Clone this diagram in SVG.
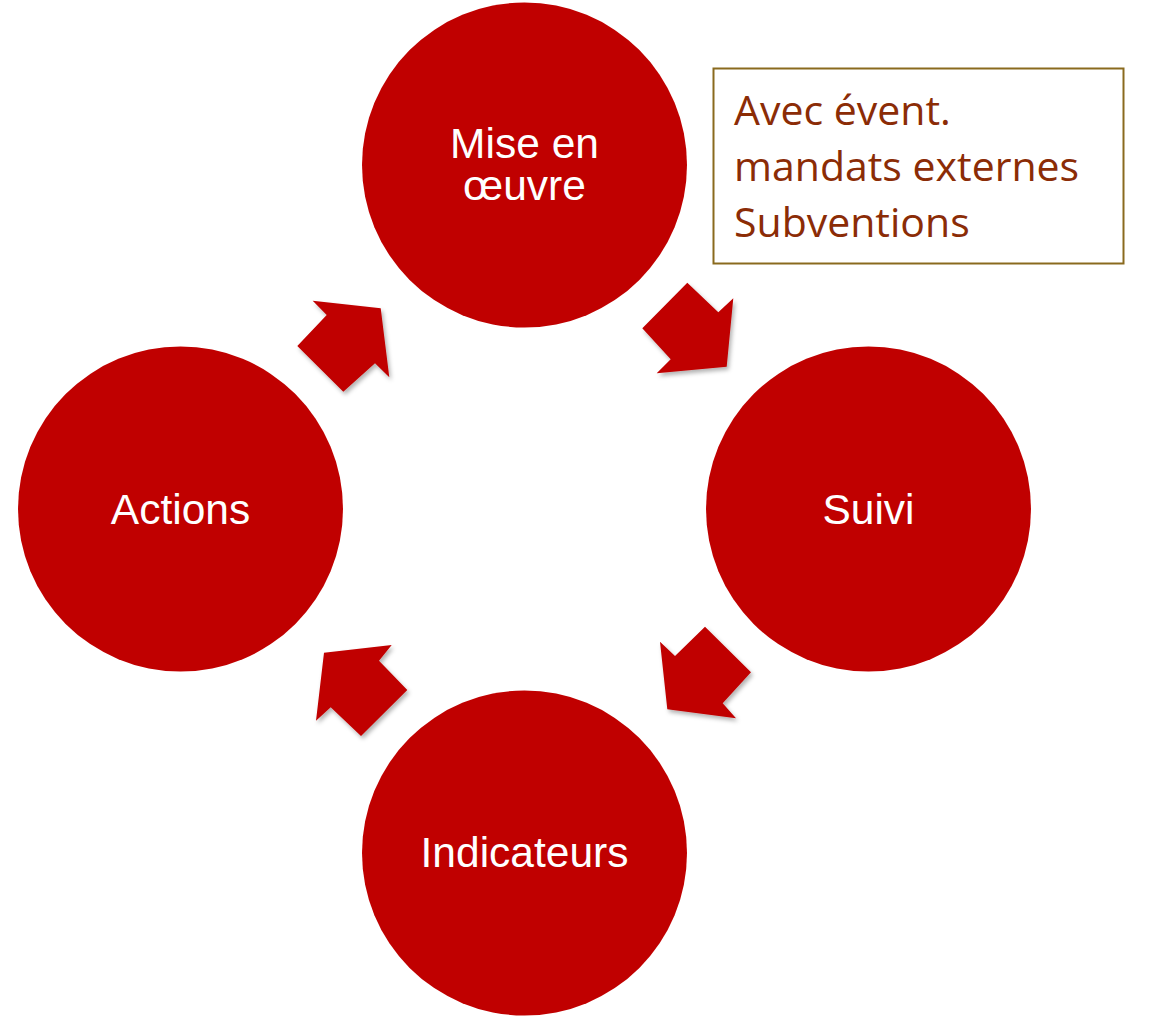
<svg xmlns="http://www.w3.org/2000/svg" width="1153" height="1023" viewBox="0 0 1153 1023">
<defs>
<filter id="sh" x="-20%" y="-20%" width="140%" height="140%">
<feDropShadow dx="2" dy="3" stdDeviation="2" flood-color="#000" flood-opacity="0.3"/>
</filter>
</defs>
<style>
.node{fill:#C00000;}
.lbl{fill:#FFFFFF;font-family:"Liberation Sans",Arial,sans-serif;font-size:42.5px;text-anchor:middle;}
.arr{fill:#C00000;filter:url(#sh);}
.note{fill:#8B2C06;font-family:"Open Sans","Noto Sans",sans-serif;font-size:41px;}
</style>
<rect width="1153" height="1023" fill="#FFFFFF"/>
<g id="connectors">
<polygon class="arr" points="312.7,300.7 380.7,308.3 389.3,377.3 375,363.3 343.3,391.7 297.3,346 326.7,315"/>
<polygon class="arr" points="687.3,282.7 718.3,312.3 733.3,298.3 726.7,366.7 656.7,373.3 670.7,359.3 642.3,328.3"/>
<polygon class="arr" points="660,641.7 675,656 705,626.7 751,672.3 722.7,703.3 736,718.3 667.3,709.3"/>
<polygon class="arr" points="391.7,645 324,652.7 316,720.7 330.7,707.3 361,736 407.3,690 379,660.7"/>
</g>
<g id="node-mise">
<circle class="node" cx="524.5" cy="165" r="162.5"/>
<text class="lbl" x="524.5" y="158">Mise en</text>
<text class="lbl" x="524.5" y="200">œuvre</text>
</g>
<g id="node-suivi">
<circle class="node" cx="868.5" cy="509" r="162.5"/>
<text class="lbl" x="868.5" y="524">Suivi</text>
</g>
<g id="node-indicateurs">
<circle class="node" cx="524.5" cy="853" r="162.5"/>
<text class="lbl" x="524.5" y="867">Indicateurs</text>
</g>
<g id="node-actions">
<circle class="node" cx="180.5" cy="509" r="162.5"/>
<text class="lbl" x="180.5" y="524">Actions</text>
</g>
<g id="note">
<rect x="713.5" y="68.5" width="410" height="195" fill="#FFFFFF" stroke="#8A6A1E" stroke-width="2"/>
<text class="note" x="734" y="125">Avec évent.</text>
<text class="note" x="734" y="181">mandats externes</text>
<text class="note" x="734" y="237">Subventions</text>
</g>
</svg>
